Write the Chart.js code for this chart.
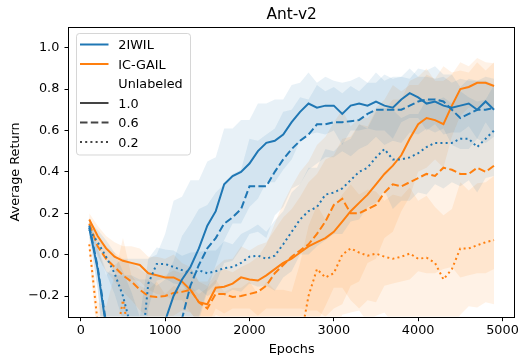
<!DOCTYPE html>
<html>
<head>
<meta charset="utf-8">
<script src="https://cdn.jsdelivr.net/npm/chart.js@4.4.0/dist/chart.umd.min.js"></script>
<style>
  html, body { margin: 0; padding: 0; background: #fff; }
</style>
</head>
<body>
<canvas id="chart" width="521" height="355"></canvas>
<script>
// epochs sampled every 100
var epochs = [100, 200, 300, 400, 500, 600, 700, 800, 900, 1000,
              1100, 1200, 1300, 1400, 1500, 1600, 1700, 1800, 1900, 2000,
              2100, 2200, 2300, 2400, 2500, 2600, 2700, 2800, 2900, 3000,
              3100, 3200, 3300, 3400, 3500, 3600, 3700, 3800, 3900, 4000,
              4100, 4200, 4300, 4400, 4500, 4600, 4700, 4800, 4900];

// 2IWIL, unlabeled 1.0
var iwil10Mean = [0.13, -0.07, -0.35, -0.55, -0.60, -0.62, -0.62, -0.60, -0.50, -0.32,
                  -0.20, -0.12, -0.06, 0.03, 0.14, 0.21, 0.34, 0.38, 0.40, 0.44,
                  0.50, 0.54, 0.55, 0.58, 0.64, 0.69, 0.73, 0.71, 0.72, 0.72,
                  0.68, 0.72, 0.73, 0.72, 0.74, 0.72, 0.71, 0.75, 0.78, 0.76,
                  0.73, 0.74, 0.72, 0.71, 0.72, 0.73, 0.70, 0.74, 0.70];
var iwil10Std = [0.04, 0.10, 0.25, 0.50, 0.58, 0.60, 0.60, 0.58, 0.50, 0.42,
                 0.46, 0.40, 0.42, 0.33, 0.31, 0.26, 0.27, 0.23, 0.25, 0.21,
                 0.23, 0.19, 0.20, 0.17, 0.18, 0.14, 0.15, 0.12, 0.14, 0.12,
                 0.15, 0.12, 0.13, 0.11, 0.14, 0.12, 0.15, 0.11, 0.12, 0.10,
                 0.13, 0.11, 0.14, 0.12, 0.13, 0.11, 0.14, 0.10, 0.12];

// 2IWIL, unlabeled 0.6
var iwil06Mean = [0.14, -0.06, -0.33, -0.55, -0.65, -0.70, -0.72, -0.72, -0.70, -0.62,
                  -0.48, -0.31, -0.15, -0.05, 0.03, 0.08, 0.15, 0.18, 0.22, 0.33,
                  0.33, 0.33, 0.40, 0.46, 0.51, 0.55, 0.58, 0.63, 0.63, 0.64,
                  0.64, 0.645, 0.65, 0.68, 0.70, 0.70, 0.70, 0.70, 0.72, 0.74,
                  0.75, 0.75, 0.74, 0.70, 0.66, 0.68, 0.70, 0.70, 0.71];
var iwil06Std = [0.04, 0.10, 0.25, 0.45, 0.55, 0.60, 0.60, 0.60, 0.55, 0.50,
                 0.45, 0.40, 0.30, 0.27, 0.21, 0.22, 0.19, 0.21, 0.19, 0.23,
                 0.22, 0.25, 0.21, 0.23, 0.19, 0.21, 0.17, 0.19, 0.16, 0.17,
                 0.14, 0.17, 0.14, 0.15, 0.13, 0.17, 0.15, 0.16, 0.13, 0.16,
                 0.14, 0.16, 0.13, 0.17, 0.15, 0.17, 0.14, 0.16, 0.14];

// 2IWIL, unlabeled 0.2
var iwil02Mean = [0.12, 0.06, -0.01, -0.09, -0.20, -0.36, -0.55, -0.14, -0.045, -0.045,
                  -0.06, -0.075, -0.09, -0.076, -0.09, -0.08, -0.065, -0.06, -0.04, -0.01,
                  -0.005, -0.02, -0.005, 0.05, 0.11, 0.17, 0.21, 0.23, 0.29, 0.30,
                  0.32, 0.36, 0.40, 0.42, 0.47, 0.51, 0.46, 0.46, 0.47, 0.49,
                  0.52, 0.54, 0.54, 0.54, 0.56, 0.56, 0.52, 0.56, 0.60];
var iwil02Std = [0.04, 0.06, 0.08, 0.10, 0.12, 0.18, 0.25, 0.12, 0.08, 0.07,
                 0.08, 0.07, 0.10, 0.09, 0.11, 0.10, 0.13, 0.11, 0.14, 0.13,
                 0.15, 0.13, 0.17, 0.16, 0.19, 0.17, 0.21, 0.19, 0.22, 0.20,
                 0.22, 0.20, 0.23, 0.19, 0.22, 0.20, 0.24, 0.20, 0.21, 0.19,
                 0.23, 0.20, 0.22, 0.19, 0.23, 0.20, 0.22, 0.19, 0.22];

// IC-GAIL, unlabeled 1.0
var icgail10Mean = [0.17, 0.09, 0.03, -0.01, -0.03, -0.04, -0.05, -0.09, -0.10, -0.11,
                    -0.11, -0.13, -0.17, -0.23, -0.24, -0.16, -0.155, -0.14, -0.11, -0.12,
                    -0.125, -0.10, -0.07, -0.04, -0.02, 0.01, 0.04, 0.06, 0.08, 0.11,
                    0.16, 0.21, 0.25, 0.29, 0.34, 0.39, 0.43, 0.48, 0.56, 0.63,
                    0.66, 0.65, 0.63, 0.72, 0.80, 0.81, 0.83, 0.83, 0.815];
var icgail10Std = [0.03, 0.05, 0.06, 0.07, 0.07, 0.08, 0.08, 0.08, 0.09, 0.09,
                   0.11, 0.09, 0.11, 0.10, 0.11, 0.10, 0.13, 0.12, 0.15, 0.14,
                   0.17, 0.16, 0.19, 0.22, 0.24, 0.27, 0.31, 0.33, 0.38, 0.37,
                   0.40, 0.36, 0.38, 0.33, 0.36, 0.31, 0.32, 0.27, 0.28, 0.23,
                   0.24, 0.19, 0.21, 0.15, 0.13, 0.10, 0.12, 0.10, 0.11];

// IC-GAIL, unlabeled 0.6
var icgail06Mean = [0.15, 0.04, -0.02, -0.06, -0.10, -0.13, -0.17, -0.20, -0.205, -0.20,
                    -0.185, -0.18, -0.17, -0.23, -0.26, -0.19, -0.19, -0.205, -0.20, -0.19,
                    -0.18, -0.15, -0.09, -0.05, -0.01, 0.02, 0.05, 0.10, 0.16, 0.24,
                    0.27, 0.20, 0.20, 0.22, 0.24, 0.30, 0.34, 0.33, 0.35, 0.37,
                    0.39, 0.38, 0.42, 0.41, 0.39, 0.39, 0.42, 0.40, 0.43];
var icgail06Std = [0.03, 0.05, 0.06, 0.07, 0.08, 0.09, 0.10, 0.10, 0.10, 0.10,
                   0.11, 0.09, 0.11, 0.10, 0.11, 0.10, 0.12, 0.12, 0.14, 0.15,
                   0.17, 0.20, 0.24, 0.30, 0.34, 0.38, 0.40, 0.43, 0.41, 0.40,
                   0.43, 0.42, 0.46, 0.44, 0.47, 0.45, 0.48, 0.46, 0.47, 0.45,
                   0.48, 0.47, 0.49, 0.47, 0.50, 0.49, 0.51, 0.49, 0.50];

// IC-GAIL, unlabeled 0.2
var icgail02Mean = [0.05, -0.33, -0.55, -0.45, -0.22, -0.45, -0.60, -0.62, -0.60, -0.63,
                    -0.61, -0.60, -0.62, -0.64, -0.60, -0.58, -0.61, -0.63, -0.60, -0.59,
                    -0.62, -0.60, -0.61, -0.63, -0.60, -0.42, -0.20, -0.07, -0.11, -0.09,
                    0.0, 0.03, 0.01, -0.005, 0.005, -0.01, -0.02, -0.01, 0.005, -0.02,
                    -0.015, -0.04, -0.12, -0.07, 0.03, 0.03, 0.045, 0.06, 0.07];
var icgail02Std = [0.05, 0.10, 0.30, 0.35, 0.30, 0.35, 0.45, 0.45, 0.47, 0.44,
                   0.46, 0.43, 0.47, 0.45, 0.44, 0.46, 0.43, 0.47, 0.44, 0.46,
                   0.43, 0.47, 0.44, 0.46, 0.42, 0.38, 0.34, 0.31, 0.28, 0.32,
                   0.29, 0.31, 0.28, 0.32, 0.30, 0.27, 0.31, 0.29, 0.32, 0.28,
                   0.30, 0.27, 0.31, 0.29, 0.32, 0.28, 0.30, 0.29, 0.31];

var xTickValues = [0, 1000, 2000, 3000, 4000, 5000];
var xTickLabels = ['0', '1000', '2000', '3000', '4000', '5000'];
var yTickValues = [-0.2, 0, 0.2, 0.4, 0.6, 0.8, 1.0];
var yTickLabels = ['\u22120.2', '0.0', '0.2', '0.4', '0.6', '0.8', '1.0'];

var methodNames = ['2IWIL', 'IC-GAIL'];
var unlabeledRates = ['1.0', '0.6', '0.2'];

var BLUE = '#1f77b4', ORANGE = '#ff7f0e';
var BLUE_BAND = 'rgba(31,119,180,0.1)', ORANGE_BAND = 'rgba(255,127,14,0.1)';
var FONT = "'DejaVu Sans', sans-serif";
var DASHES = { '1.0': [], '0.6': [7.5, 3.3], '0.2': [2, 3.2] };

var series = [
  { method: 0, rate: '1.0', mean: iwil10Mean, std: iwil10Std },
  { method: 0, rate: '0.6', mean: iwil06Mean, std: iwil06Std },
  { method: 0, rate: '0.2', mean: iwil02Mean, std: iwil02Std },
  { method: 1, rate: '1.0', mean: icgail10Mean, std: icgail10Std },
  { method: 1, rate: '0.6', mean: icgail06Mean, std: icgail06Std },
  { method: 1, rate: '0.2', mean: icgail02Mean, std: icgail02Std }
];

function toPoints(mean, std, sign) {
  return epochs.map(function(e, i) {
    return { x: e, y: mean[i] + sign * (std ? std[i] : 0) };
  });
}

var datasets = [];
series.forEach(function(s) {
  var band = s.method === 0 ? BLUE_BAND : ORANGE_BAND;
  datasets.push({
    data: toPoints(s.mean, s.std, -1),
    borderWidth: 0, pointRadius: 0, fill: false, order: 1, clip: 0
  });
  datasets.push({
    data: toPoints(s.mean, s.std, 1),
    borderWidth: 0, pointRadius: 0, fill: '-1', backgroundColor: band, order: 1, clip: 0
  });
});
series.forEach(function(s) {
  datasets.push({
    label: methodNames[s.method] + ' ' + s.rate,
    data: toPoints(s.mean, null, 0),
    borderColor: s.method === 0 ? BLUE : ORANGE,
    borderWidth: 2,
    borderDash: DASHES[s.rate],
    pointRadius: 0, tension: 0, fill: false, order: 0, clip: 0
  });
});

// frame, title and matplotlib-like legend box
var decorations = {
  id: 'decorations',
  afterDatasetsDraw: function(chart) {
    var a = chart.chartArea, ctx = chart.ctx;
    ctx.save();
    ctx.strokeStyle = '#000';
    ctx.lineWidth = 1;
    ctx.strokeRect(Math.round(a.left) - 0.5, Math.round(a.top) + 0.5,
                   Math.round(a.right - a.left) + 1, Math.round(a.bottom - a.top));
    ctx.restore();
  },
  afterDraw: function(chart) {
    var a = chart.chartArea, ctx = chart.ctx;
    ctx.save();
    ctx.fillStyle = '#000';
    ctx.font = '15.4px ' + FONT;
    ctx.textAlign = 'center';
    ctx.textBaseline = 'alphabetic';
    ctx.fillText('Ant-v2', (a.left + a.right) / 2, 19);

    // legend frame
    var bx = 76.5, by = 33.5, bw = 114, bh = 121.5, r = 3;
    ctx.beginPath();
    ctx.moveTo(bx + r, by);
    ctx.arcTo(bx + bw, by, bx + bw, by + bh, r);
    ctx.arcTo(bx + bw, by + bh, bx, by + bh, r);
    ctx.arcTo(bx, by + bh, bx, by, r);
    ctx.arcTo(bx, by, bx + bw, by, r);
    ctx.closePath();
    ctx.fillStyle = 'rgba(255,255,255,0.8)';
    ctx.fill();
    ctx.strokeStyle = 'rgba(204,204,204,0.8)';
    ctx.lineWidth = 1;
    ctx.stroke();

    var entries = [
      { text: methodNames[0], color: BLUE, dash: [] },
      { text: methodNames[1], color: ORANGE, dash: [] },
      { text: 'Unlabeled', color: null, dash: [] }
    ];
    unlabeledRates.forEach(function(rate) {
      entries.push({ text: rate, color: '#444', dash: DASHES[rate] });
    });
    ctx.font = '12.8px ' + FONT;
    ctx.textAlign = 'left';
    entries.forEach(function(en, i) {
      var base = 49.3 + i * 19.5;
      if (en.color) {
        ctx.beginPath();
        ctx.setLineDash(en.dash);
        ctx.strokeStyle = en.color;
        ctx.lineWidth = 2;
        ctx.moveTo(80, base - 4.8);
        ctx.lineTo(108.5, base - 4.8);
        ctx.stroke();
        ctx.setLineDash([]);
      }
      ctx.fillStyle = '#000';
      ctx.fillText(en.text, 118.3, base);
    });
    ctx.restore();
  }
};

new Chart(document.getElementById('chart'), {
  type: 'line',
  data: { datasets: datasets },
  plugins: [decorations],
  options: {
    responsive: false,
    animation: false,
    devicePixelRatio: 1,
    layout: { padding: { left: 0, right: 5, top: 27, bottom: 0 } },
    plugins: {
      legend: { display: false },
      tooltip: { enabled: false },
      title: { display: false }
    },
    scales: {
      x: {
        type: 'linear',
        min: -140,
        max: 5140,
        afterBuildTicks: function(scale) {
          scale.ticks = xTickValues.map(function(v) { return { value: v }; });
        },
        afterFit: function(scale) { scale.height = 38.3; },
        ticks: {
          callback: function(v) { return xTickLabels[xTickValues.indexOf(v)]; },
          color: '#000',
          font: { family: FONT, size: 12.8 },
          padding: 2.1,
          maxRotation: 0,
          autoSkip: false
        },
        grid: { drawOnChartArea: false, drawTicks: true, tickLength: 4.5, color: '#000', lineWidth: 1 },
        border: { display: false },
        title: {
          display: true, text: 'Epochs', color: '#000',
          font: { family: FONT, size: 12.8, lineHeight: 0.83 },
          padding: { top: 0, bottom: 0 }
        }
      },
      y: {
        type: 'linear',
        min: -0.3,
        max: 1.1,
        afterBuildTicks: function(scale) {
          scale.ticks = yTickValues.map(function(v) { return { value: v }; });
        },
        afterFit: function(scale) { scale.width = 69; },
        ticks: {
          callback: function(v) {
            for (var i = 0; i < yTickValues.length; i++) {
              if (Math.abs(yTickValues[i] - v) < 1e-9) return yTickLabels[i];
            }
            return '';
          },
          color: '#000',
          font: { family: FONT, size: 12.8 },
          padding: 5.2,
          autoSkip: false
        },
        grid: { drawOnChartArea: false, drawTicks: true, tickLength: 4.5, color: '#000', lineWidth: 1 },
        border: { display: false },
        title: {
          display: true, text: 'Average Return', color: '#000',
          font: { family: FONT, size: 12.8 },
          padding: { top: 7.6, bottom: 0 }
        }
      }
    }
  }
});
</script>
</body>
</html>
